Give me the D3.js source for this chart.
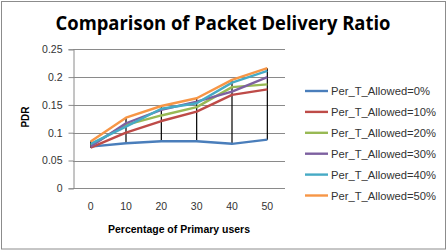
<!DOCTYPE html>
<html><head><meta charset="utf-8">
<script src="https://cdn.jsdelivr.net/npm/d3@7/dist/d3.min.js"></script>
<style>body{margin:0;background:#fff}svg{display:block}</style>
</head><body>
<script>
const categories = ["0","10","20","30","40","50"];
const seriesNames = ["Per_T_Allowed=0%","Per_T_Allowed=10%","Per_T_Allowed=20%","Per_T_Allowed=30%","Per_T_Allowed=40%","Per_T_Allowed=50%"];
const s0  = [0.075, 0.081, 0.0845, 0.0845, 0.080, 0.0875];
const s10 = [0.073, 0.100, 0.121, 0.138, 0.168, 0.178];
const s20 = [0.078, 0.114, 0.131, 0.146, 0.182, 0.187];
const s30 = [0.075, 0.117, 0.141, 0.156, 0.174, 0.200];
const s40 = [0.080, 0.111, 0.143, 0.153, 0.190, 0.211];
const s50 = [0.084, 0.127, 0.148, 0.162, 0.195, 0.216];
const yTicks = [0, 0.05, 0.1, 0.15, 0.2, 0.25];
const yTickLabels = ["0","0.05","0.1","0.15","0.2","0.25"];
const colors = ["#4A7EBB","#BE4B48","#98B954","#7D60A0","#46AAC5","#F79646"];
const series = [s0,s10,s20,s30,s40,s50];

const W=448,H=252;
const svg=d3.select("body").append("svg").attr("width",W).attr("height",H);
svg.append("rect").attr("x",1.5).attr("y",1.5).attr("width",444).attr("height",247.5)
  .attr("fill","#fff").attr("stroke","#8c8c8c").attr("stroke-width",1);

const x=d3.scaleBand().domain(categories).range([73,285]);
const y=d3.scaleLinear().domain([0,0.25]).range([188.3,49.3]);
const font="'Liberation Sans', Arial, sans-serif";

svg.append("text").attr("x",223).attr("y",30).attr("text-anchor","middle")
  .attr("font-family","'Open Sans', 'Liberation Sans', sans-serif").attr("font-weight","bold").attr("font-size",19)
  .attr("textLength",335).attr("lengthAdjust","spacingAndGlyphs")
  .attr("fill","#000").text("Comparison of Packet Delivery Ratio");

// gridlines
svg.append("g").selectAll("line").data(yTicks).join("line")
  .attr("x1",73).attr("x2",285).attr("y1",d=>Math.round(y(d))+0.5).attr("y2",d=>Math.round(y(d))+0.5)
  .attr("stroke","#8a8a8a").attr("stroke-width",1);

// y axis
const yAxis=d3.axisLeft(y).tickValues(yTicks).tickFormat((d,i)=>yTickLabels[i]).tickSize(5).tickPadding(6);
const ga=svg.append("g").attr("transform","translate(73.5,0)").call(yAxis);
ga.select(".domain").attr("stroke","#8a8a8a");
ga.selectAll(".tick line").attr("stroke","#8a8a8a");
ga.selectAll(".tick text").attr("font-family",font).attr("font-size",10.5).attr("fill","#333");

// x axis labels
const xAxis=d3.axisBottom(x).tickSize(0).tickPadding(14);
const gx=svg.append("g").attr("transform","translate(0,188.3)").call(xAxis);
gx.select(".domain").remove();
gx.selectAll(".tick text").attr("font-family",font).attr("font-size",10.5).attr("fill","#333");

// high-low lines
svg.append("g").selectAll("line").data(categories).join("line")
  .attr("x1",d=>x(d)+x.bandwidth()/2).attr("x2",d=>x(d)+x.bandwidth()/2)
  .attr("y1",(d,i)=>y(d3.min(series,s=>s[i]))).attr("y2",(d,i)=>y(d3.max(series,s=>s[i])))
  .attr("stroke","#000").attr("stroke-width",1.2);

// lines
const line=d3.line().x((d,i)=>x(categories[i])+x.bandwidth()/2).y(d=>y(d));
svg.append("g").selectAll("path").data(series).join("path")
  .attr("d",d=>line(d)).attr("fill","none").attr("stroke",(d,i)=>colors[i])
  .attr("stroke-width",2.4).attr("stroke-linejoin","round");

// axis titles
svg.append("text").attr("transform","translate(29,117) rotate(-90)").attr("text-anchor","middle")
  .attr("font-family",font).attr("font-weight","bold").attr("font-size",10).attr("fill","#000").text("PDR");
svg.append("text").attr("x",179).attr("y",233).attr("text-anchor","middle")
  .attr("font-family",font).attr("font-weight","bold").attr("font-size",10)
  .attr("textLength",142).attr("lengthAdjust","spacingAndGlyphs").attr("fill","#000").text("Percentage of Primary users");

// legend
const lg=svg.append("g").selectAll("g").data(seriesNames).join("g")
  .attr("transform",(d,i)=>`translate(305,${91+i*20.9})`);
lg.append("line").attr("x1",0).attr("x2",23).attr("stroke",(d,i)=>colors[i]).attr("stroke-width",2.4);
lg.append("text").attr("x",26).attr("y",4).attr("font-family",font).attr("font-size",10.5).attr("fill","#333")
  .attr("textLength",(d)=>d.length===17?105:99).attr("lengthAdjust","spacingAndGlyphs").text(d=>d);
</script>
</body></html>
